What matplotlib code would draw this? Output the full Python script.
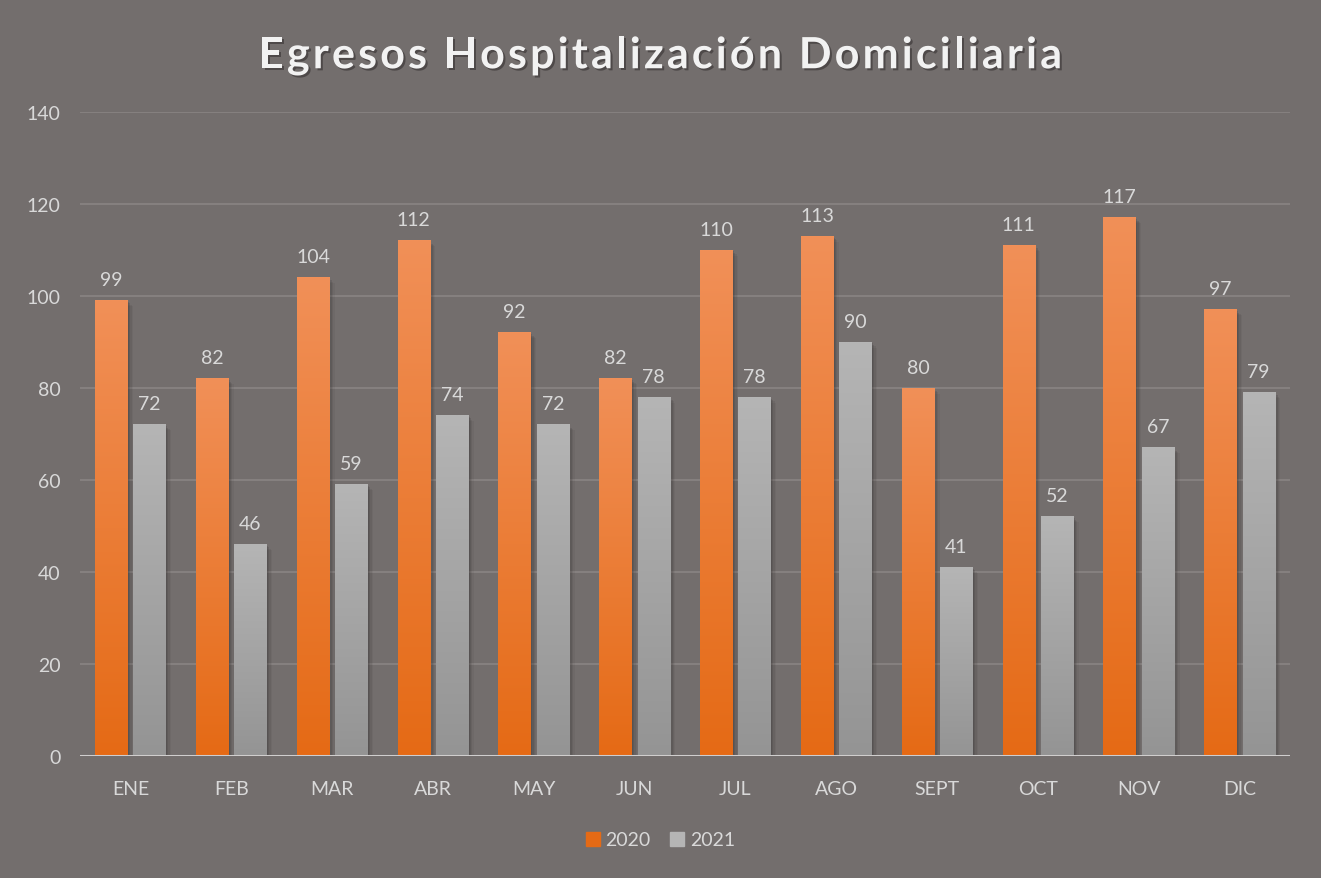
import numpy as np
import matplotlib
matplotlib.use("Agg")
import matplotlib.pyplot as plt
import matplotlib.patheffects as pe
from matplotlib.colors import LinearSegmentedColormap
from matplotlib.font_manager import findfont, FontProperties
from matplotlib.ft2font import FT2Font

# Chart data
months = ["ENE", "FEB", "MAR", "ABR", "MAY", "JUN", "JUL", "AGO", "SEPT", "OCT", "NOV", "DIC"]
egresos_2020 = [99, 82, 104, 112, 92, 82, 110, 113, 80, 111, 117, 97]
egresos_2021 = [72, 46, 59, 74, 72, 78, 78, 90, 41, 52, 67, 79]
series_names = ["2020", "2021"]
title = "Egresos Hospitalización Domiciliaria"

BG = "#736e6d"
TEXT = "#d9d9d9"
ORANGE_TOP, ORANGE_BOT = "#f19058", "#e56a15"
GRAY_TOP, GRAY_BOT = "#b5b5b5", "#949494"

plt.rcParams["font.family"] = ["Lato", "DejaVu Sans"]


def gradient_bars(ax, xs, values, width, top, bottom):
    """Draw bars with a vertical gradient and a soft drop shadow."""
    cmap = LinearSegmentedColormap.from_list("g", [bottom, top])
    grad = np.linspace(0, 1, 256).reshape(-1, 1)
    shadow = [pe.SimplePatchShadow(offset=(s, -s), shadow_rgbFace="#3a3636", alpha=a)
              for s, a in ((4, 0.08), (3, 0.12), (2, 0.18), (1, 0.2))]
    bars = ax.bar(xs, values, width, color=bottom, zorder=3,
                  path_effects=shadow + [pe.Normal()])
    for b in bars:
        x0, w, h = b.get_x(), b.get_width(), b.get_height()
        ax.imshow(grad, cmap=cmap, origin="lower", aspect="auto",
                  extent=(x0, x0 + w, 0, h), zorder=4)
    return bars


def spaced_title(fig, text, y, size, total_px):
    """Title with letter spacing: place each character on its own."""
    fp = FontProperties(family="Lato", weight="bold", size=size)
    font = FT2Font(findfont(fp))
    font.set_size(size, fig.dpi)
    adv = [font.load_char(ord(c)).linearHoriAdvance / 65536 for c in text]
    gap = (total_px - sum(adv)) / (len(text) - 1)
    W = fig.get_figwidth() * fig.dpi
    xpos = W / 2 - total_px / 2
    shadow = [pe.withSimplePatchShadow(offset=(1.5, -1.5), shadow_rgbFace="#2a2626", alpha=0.5)]
    for c, a in zip(text, adv):
        if c != " ":
            fig.text((xpos + a / 2) / W, y, c, ha="center", va="center",
                     color="#f2f2f2", fontproperties=fp, path_effects=shadow)
        xpos += a + gap


def plot_chart():
    fig = plt.figure(figsize=(13.21, 8.79), dpi=100, facecolor=BG)
    ax = fig.add_axes([80 / 1321, 122 / 879, 1210 / 1321, 644 / 879], facecolor=BG)

    x = np.arange(len(months))
    width = 0.32
    off = 0.19

    gradient_bars(ax, x - off, egresos_2020, width, ORANGE_TOP, ORANGE_BOT)
    gradient_bars(ax, x + off, egresos_2021, width, GRAY_TOP, GRAY_BOT)

    # Data labels
    for xi, v in zip(x - off, egresos_2020):
        ax.annotate(str(v), (xi, v), xytext=(0, 9), textcoords="offset points",
                    ha="center", va="bottom", color=TEXT, fontsize=14)
    for xi, v in zip(x + off, egresos_2021):
        ax.annotate(str(v), (xi, v), xytext=(0, 9), textcoords="offset points",
                    ha="center", va="bottom", color=TEXT, fontsize=14)

    ax.set_xlim(-0.5, len(months) - 0.5)
    ax.set_ylim(0, 140)
    ax.set_yticks(range(0, 141, 20))
    ax.set_xticks(x)
    ax.set_xticklabels(months)
    ax.tick_params(axis="both", length=0, colors=TEXT, labelsize=14)
    ax.tick_params(axis="x", pad=17)
    ax.tick_params(axis="y", pad=14)

    ax.grid(axis="y", color="#878281", linewidth=1.3, zorder=0)
    for s in ax.spines.values():
        s.set_visible(False)
    ax.axhline(0, color="#d0cece", linewidth=2.2, zorder=6)

    # Title
    spaced_title(fig, title, 0.936, 31, 803)

    # Legend
    handles = [plt.Rectangle((0, 0), 1, 1, color=ORANGE_BOT),
               plt.Rectangle((0, 0), 1, 1, color=GRAY_TOP)]
    fig.legend(handles, series_names, loc="center", bbox_to_anchor=(0.5, 1 - 841 / 879),
               ncol=2, frameon=False, fontsize=14, labelcolor=TEXT,
               handlelength=0.7, handleheight=0.7, handletextpad=0.3, columnspacing=1.0)
    return fig


def main():
    fig = plot_chart()
    fig.savefig("out.png", dpi=100, facecolor=BG)


if __name__ == "__main__":
    main()
